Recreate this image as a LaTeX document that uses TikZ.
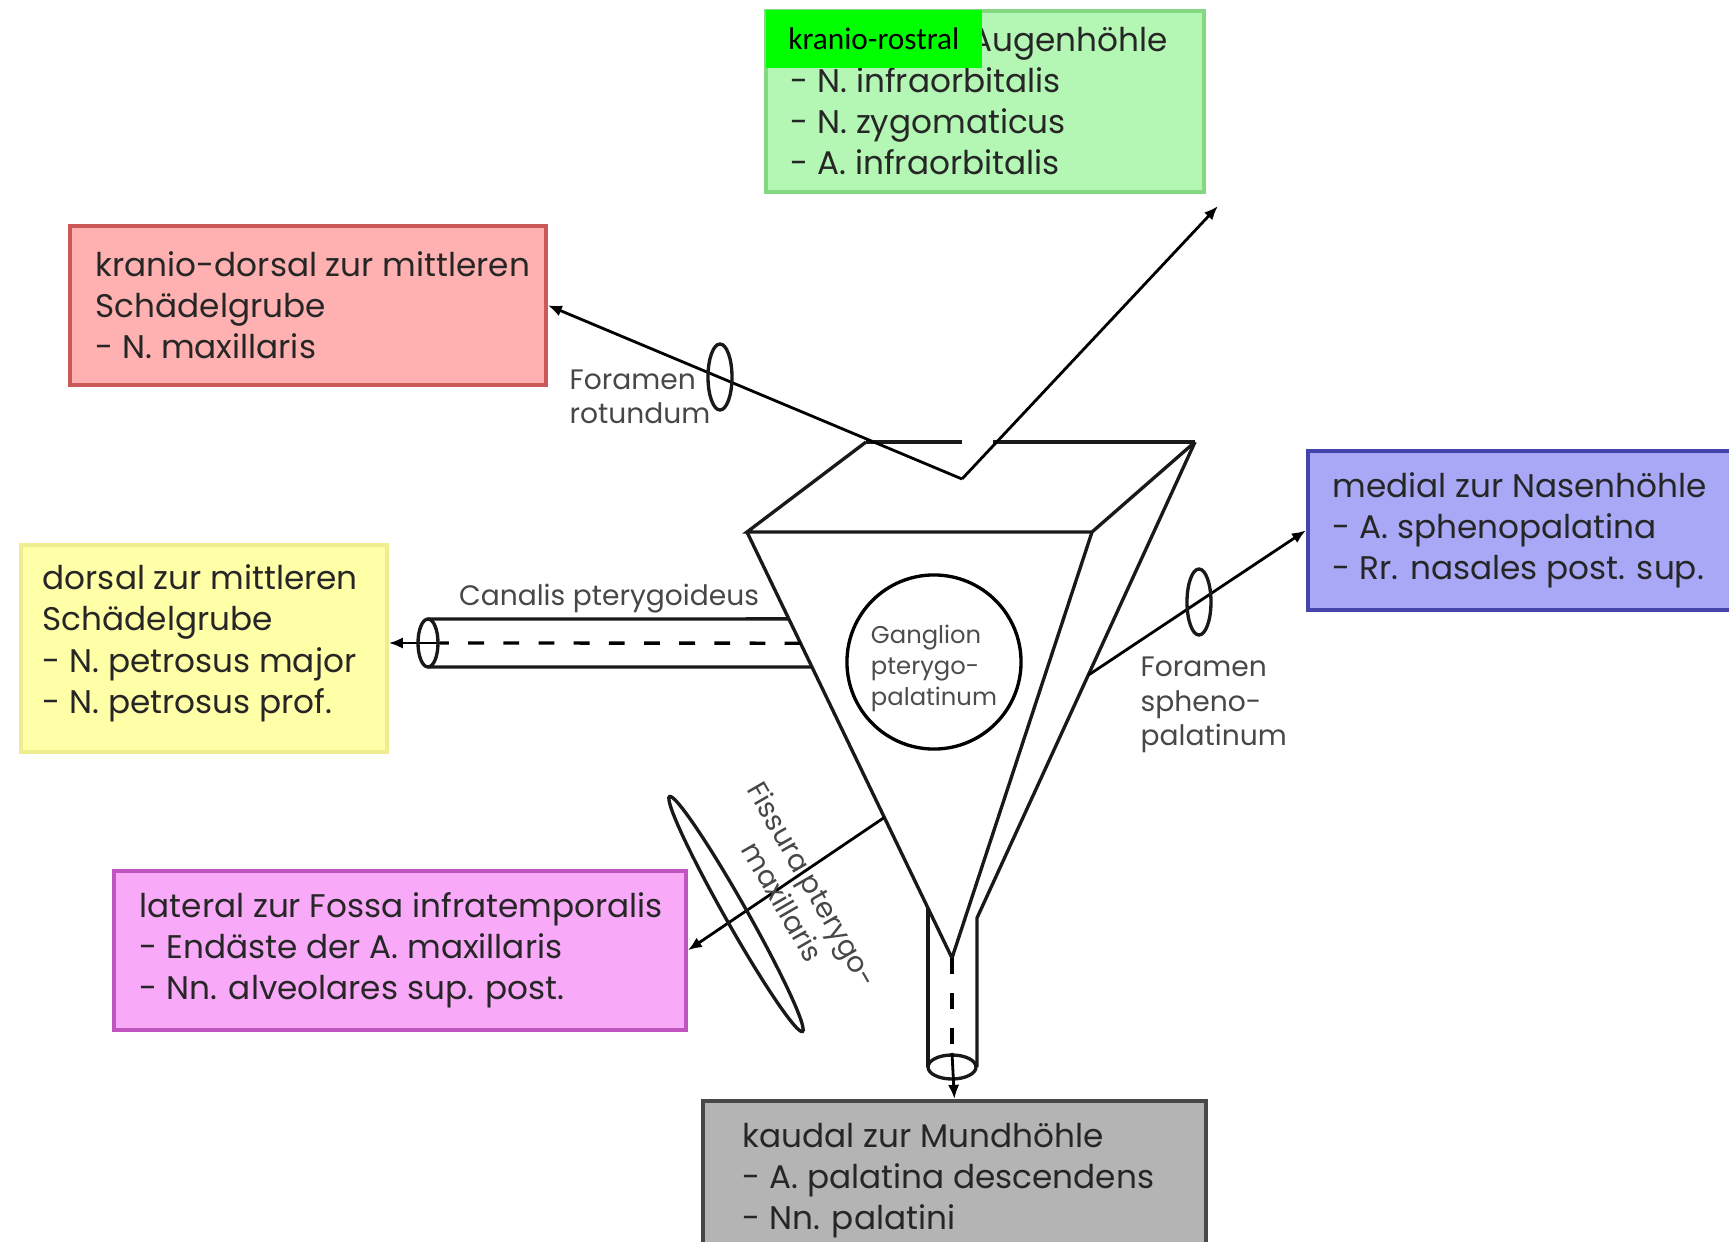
\documentclass[tikz,border=0pt]{standalone}
\usepackage{fontspec}
\setmainfont{Poppins}
\newfontfamily\calibri{Carlito}
\usetikzlibrary{arrows.meta,calc,positioning}

\definecolor{gruenfill}{HTML}{B4F6B4}
\definecolor{gruenrand}{HTML}{84D884}
\definecolor{rotfill}{HTML}{FFB0B0}
\definecolor{rotrand}{HTML}{CC5858}
\definecolor{gelbfill}{HTML}{FFFFA8}
\definecolor{gelbrand}{HTML}{EEEE90}
\definecolor{blaufill}{HTML}{A8A8F6}
\definecolor{blaurand}{HTML}{4444AA}
\definecolor{lilafill}{HTML}{F8AAF8}
\definecolor{lilarand}{HTML}{C055C0}
\definecolor{graufill}{HTML}{B4B4B4}
\definecolor{graurand}{HTML}{484848}

\tikzset{
  kante/.style={line width=0.95pt, black!90},
  pfeil/.style={line width=0.8pt, -{Latex[length=4pt,width=3.2pt]}},
  strich/.style={line width=0.95pt, dash pattern=on 4.5pt off 5.5pt},
  lagebox/.style={draw, line width=1pt, anchor=north west, inner sep=0pt},
  kastentext/.style={align=left, inner sep=0pt, text=black!85,
    font=\fontsize{9.3}{11.7}\selectfont},
  beschr/.style={font=\fontsize{8}{9.8}\selectfont, text=black!72,
    align=left, inner sep=0pt},
}

\begin{document}
\begin{tikzpicture}[x=0.01cm, y=-0.01cm]
    \useasboundingbox (0,0) rectangle (1729,1242);

    % Kaesten
    \node[lagebox, fill=gruenfill, draw=gruenrand, minimum width=4.38cm,
        minimum height=1.81cm] (augen) at (764,9) {};
    \node[kastentext, right=0.26cm of augen.west] (augentxt)
        {\hspace*{5.5em}Augenhöhle\\- N. infraorbitalis\\- N. zygomaticus\\- A. infraorbitalis};
    \node[fill=green, anchor=north west, inner sep=0pt, minimum width=2.16cm,
        minimum height=0.58cm, font=\calibri\fontsize{8.9}{10}\selectfont]
        (rostral) at (765,9) {kranio-rostral};

    \node[lagebox, fill=rotfill, draw=rotrand, minimum width=4.76cm,
        minimum height=1.59cm] (maxill) at (68,224) {};
    \node[kastentext, right=0.27cm of maxill.west] (maxilltxt)
        {kranio-dorsal zur mittleren\\Schädelgrube\\- N. maxillaris};

    \node[lagebox, fill=gelbfill, draw=gelbrand, minimum width=3.66cm,
        minimum height=2.07cm] (petros) at (19,543) {};
    \node[kastentext, right=0.23cm of petros.west, yshift=0.05cm] (petrostxt)
        {dorsal zur mittleren\\Schädelgrube\\- N. petrosus major\\- N. petrosus prof.};

    \node[lagebox, fill=blaufill, draw=blaurand, minimum width=4.40cm,
        minimum height=1.59cm] (nase) at (1306,449) {};
    \node[kastentext, right=0.26cm of nase.west] (nasetxt)
        {medial zur Nasenhöhle\\- A. sphenopalatina\\- Rr. nasales post. sup.};

    \node[lagebox, fill=lilafill, draw=lilarand, minimum width=5.72cm,
        minimum height=1.59cm] (fossa) at (112,869) {};
    \node[kastentext, right=0.27cm of fossa.west] (fossatxt)
        {lateral zur Fossa infratemporalis\\- Endäste der A. maxillaris\\- Nn. alveolares sup. post.};

    \node[lagebox, fill=graufill, draw=graurand, minimum width=5.03cm,
        minimum height=1.60cm] (mund) at (701,1099) {};
    \node[kastentext, right=0.41cm of mund.west] (mundtxt)
        {kaudal zur Mundhöhle\\- A. palatina descendens\\- Nn. palatini};

    % Trichter
    \coordinate (vl) at (747,532);
    \coordinate (vr) at (1092,532);
    \coordinate (hl) at (866,442);
    \coordinate (hr) at (1195,442);
    \coordinate (spitze) at (952,958);
    \coordinate (mitte) at (962,479);
    \coordinate (rohrR) at (977,918);
    \coordinate (rohrL) at ($(vl)!0.883!(spitze)$);
    \coordinate (rohrU) at (952,1067);

    \draw[kante] (hl) -- (vl) -- (vr) -- (hr);
    \draw[kante] (hl) -- (962,442) (993,442) -- (hr);
    \draw[kante] (vl) -- (spitze) -- (vr);
    \draw[kante] (hr) -- (rohrR) -- (rohrR |- rohrU);
    \draw[kante] (rohrL) -- (rohrL |- rohrU);
    \draw[kante] (rohrU) ellipse [x radius=24, y radius=12];

    \node[circle, draw, line width=0.95pt, minimum size=1.74cm, inner sep=0pt]
        (ganglion) at (934,662) {};
    \node[align=left, inner sep=0pt, text=black!70, font=\fontsize{6.9}{8.8}\selectfont,
        yshift=-0.06cm] (gangtxt) at (ganglion.center) {Ganglion\\pterygo-\\palatinum};

    % Foramen rotundum, Orbita
    \coordinate (orbita) at (1218,206);
    \draw[pfeil] (mitte) -- (maxill.east);
    \draw[pfeil] (mitte) -- (orbita);
    \draw[kante] (720,377) ellipse [x radius=12, y radius=33];
    \node[beschr, anchor=west] (frot) at (569,397) {Foramen\\rotundum};

    % Canalis pterygoideus
    \coordinate (kanal) at (440,643);
    \foreach \t/\y in {0.204/619, 0.317/667}
        \draw[kante] (428,\y) -- ($(vl)!\t!(spitze)$);
    \draw[strich] ($(vl)!0.261!(spitze)$) -- (kanal);
    \draw[pfeil] (kanal) -- (petros.east |- kanal);
    \draw[kante] (428,643) ellipse [x radius=10, y radius=24];
    \node[beschr] (canlbl) at (609,599) {Canalis pterygoideus};

    % Foramen sphenopalatinum
    \coordinate (fsp) at ($(hr)!0.49!(rohrR)$);
    \draw[pfeil] (fsp) -- (nase.west);
    \draw[kante] (1199,602) ellipse [x radius=12, y radius=33];
    \node[beschr, anchor=west] (fsplbl) at (1140,705) {Foramen\\spheno-\\palatinum};

    % Fissura pterygomaxillaris
    \coordinate (fpm) at ($(vl)!0.67!(spitze)$);
    \draw[pfeil] (fpm) -- (fossa.east);
    \draw[kante, shift={(736,914)}, rotate=-60.5] (0,0) ellipse [x radius=135, y radius=11];
    \node[beschr, rotate=-60, align=center] (fisslbl) at (798,893) {Fissura pterygo-\\maxillaris};

    % Mundhoehle
    \coordinate (mundein) at (952,1053);
    \draw[strich] (spitze) -- (mundein);
    \draw[pfeil] (mundein) -- (mund.north);
\end{tikzpicture}
\end{document}
